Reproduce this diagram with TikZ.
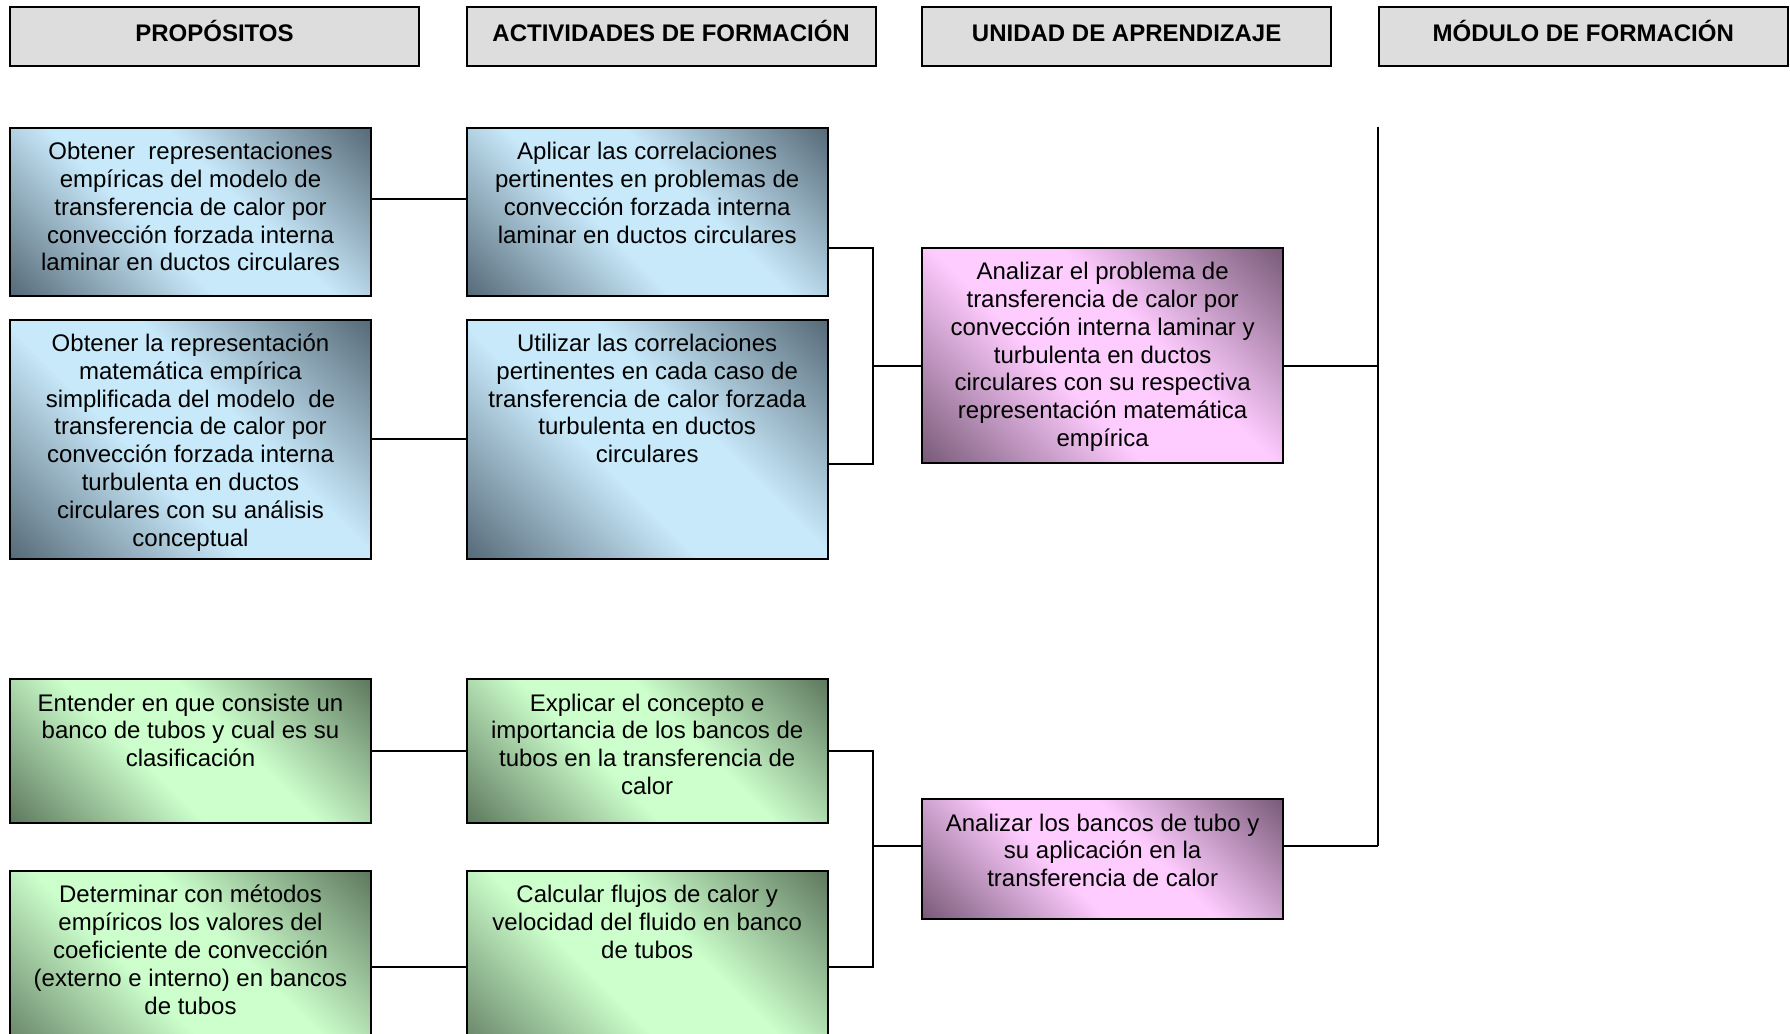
\documentclass[tikz,border=0pt]{standalone}
\usepackage{fontspec}
\setmainfont{Liberation Sans}
\usetikzlibrary{calc}
\definecolor{bdark}{RGB}{88,108,122}
\definecolor{blight}{RGB}{200,233,250}
\definecolor{gdark}{RGB}{96,122,96}
\definecolor{glight}{RGB}{204,255,204}
\definecolor{pdark}{RGB}{122,92,122}
\definecolor{plight}{RGB}{255,204,255}
\definecolor{hdrgray}{RGB}{221,221,221}
\pgfdeclarehorizontalshading{blueshade}{100bp}{color(0bp)=(bdark); color(15bp)=(bdark); color(42bp)=(blight); color(58bp)=(blight); color(85bp)=(bdark); color(100bp)=(bdark)}
\pgfdeclarehorizontalshading{greenshade}{100bp}{color(0bp)=(gdark); color(15bp)=(gdark); color(42bp)=(glight); color(58bp)=(glight); color(85bp)=(gdark); color(100bp)=(gdark)}
\pgfdeclarehorizontalshading{pinkshade}{100bp}{color(0bp)=(pdark); color(15bp)=(pdark); color(42bp)=(plight); color(58bp)=(plight); color(85bp)=(pdark); color(100bp)=(pdark)}
\newcommand{\boxtxt}[3]{\parbox[c][#2][t]{#1}{\fontsize{12pt}{13.9pt}\selectfont\centering\rule{0pt}{16pt}#3\par}}
\begin{document}
\begin{tikzpicture}[x=0.5pt,y=-0.5pt, line width=1pt,
  hdr/.style={draw, fill=hdrgray, anchor=north west, inner xsep=0pt, inner ysep=8.5pt, text height=9pt, text depth=3.65pt, minimum width=204.35pt, font=\bfseries\fontsize{12pt}{14pt}\selectfont},
  cbox/.style={draw, anchor=north west, inner sep=0pt, shade, shading angle=45},
  bluebox/.style={cbox, shading=blueshade},
  greenbox/.style={cbox, shading=greenshade},
  pinkbox/.style={cbox, shading=pinkshade}]
\useasboundingbox (0,0) rectangle (1790,1034);
\clip (0,0) rectangle (1790,1034);

\node[hdr] (h1) at (9.1,5.7) {PROPÓSITOS};
\node[hdr] (h2) at (465.8,5.7) {ACTIVIDADES DE FORMACIÓN};
\node[hdr] (h3) at (921.3,5.7) {UNIDAD DE APRENDIZAJE};
\node[hdr] (h4) at (1377.9,5.7) {MÓDULO DE FORMACIÓN};

\node[bluebox] (a) at (9.1,126.7) {\boxtxt{180.4pt}{83.9pt}{Obtener\ \ representaciones\\empíricas del modelo de\\transferencia de calor por\\convección forzada interna\\laminar en ductos circulares}};
\node[bluebox] (b) at (465.8,126.7) {\boxtxt{180.4pt}{83.9pt}{Aplicar las correlaciones\\pertinentes en problemas de\\convección forzada interna\\laminar en ductos circulares}};
\node[bluebox] (c) at (9.1,318.5) {\boxtxt{180.4pt}{119.85pt}{Obtener la representación\\matemática empírica\\simplificada del modelo\ \ de\\transferencia de calor por\\convección forzada interna\\turbulenta en ductos\\circulares con su análisis\\conceptual}};
\node[bluebox] (d) at (465.8,318.5) {\boxtxt{180.4pt}{119.85pt}{Utilizar las correlaciones\\pertinentes en cada caso de\\transferencia de calor forzada\\turbulenta en ductos\\circulares}};
\node[pinkbox] (p1) at (921.3,246.6) {\boxtxt{180.35pt}{107.85pt}{Analizar el problema de\\transferencia de calor por\\convección interna laminar y\\turbulenta en ductos\\circulares con su respectiva\\representación matemática\\empírica}};
\node[greenbox] (e) at (9.1,678.1) {\boxtxt{180.4pt}{71.95pt}{Entender en que consiste un\\banco de tubos y cual es su\\clasificación}};
\node[greenbox] (f) at (465.8,678.1) {\boxtxt{180.4pt}{71.95pt}{Explicar el concepto e\\importancia de los bancos de\\tubos en la transferencia de\\calor}};
\node[greenbox] (g) at (9.1,869.9) {\boxtxt{180.4pt}{95.9pt}{Determinar con métodos\\empíricos los valores del\\coeficiente de convección\\(externo e interno) en bancos\\de tubos}};
\node[greenbox] (h) at (465.8,869.9) {\boxtxt{180.4pt}{95.9pt}{Calcular flujos de calor y\\velocidad del fluido en banco\\de tubos}};
\node[pinkbox] (p2) at (921.3,798) {\boxtxt{180.35pt}{59.95pt}{Analizar los bancos de tubo y\\su aplicación en la\\transferencia de calor}};

\coordinate (ja) at (873.3,366.4);
\coordinate (jb) at (873.3,845.9);
\coordinate (vtop) at (1378,126.7);
\coordinate (vbot) at (1378,845.9);
\coordinate (bp) at ($(b.north east)!0.714!(b.south east)$);
\coordinate (dp) at ($(d.north east)!0.60!(d.south east)$);

\draw ($(a.north east)!0.428!(a.south east)$) -- ($(b.north west)!0.428!(b.south west)$);
\draw (c.east) -- (d.west);
\draw (bp) -- (bp -| ja) -- (dp -| ja) -- (dp);
\draw (ja) -- (ja -| p1.west);
\draw (p1.east |- ja) -- (ja -| vtop);
\draw (vtop) -- (vbot);
\draw (e.east) -- (f.west);
\draw (g.east) -- (h.west);
\draw (f.east) -- (f.east -| jb) -- (h.east -| jb) -- (h.east);
\draw (jb) -- (jb -| p2.west);
\draw (p2.east |- jb) -- (vbot);
\end{tikzpicture}
\end{document}
